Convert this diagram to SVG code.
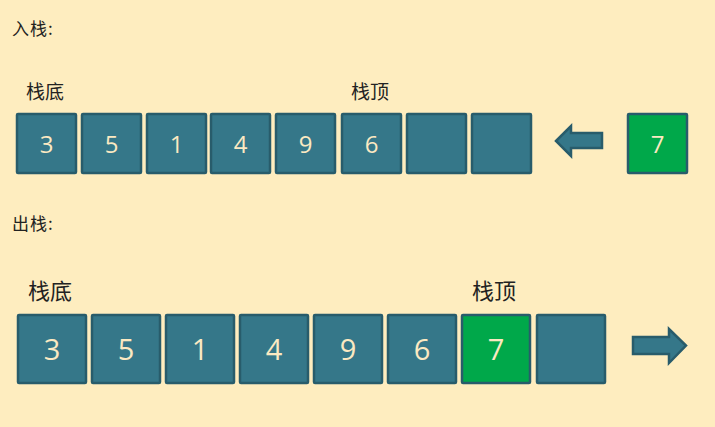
<svg xmlns="http://www.w3.org/2000/svg" width="715" height="427" viewBox="0 0 715 427">
<style>
.cell{fill:#357789;stroke:#285c6b;stroke-width:2.5}
.green{fill:#00a84a;stroke:#285c6b;stroke-width:2.5}
.num1{font-family:"Open Sans","Noto Sans",sans-serif;font-size:24px;fill:#fbe9c2;text-anchor:middle}
.num2{font-family:"Open Sans","Noto Sans",sans-serif;font-size:29px;fill:#fbe9c2;text-anchor:middle}
.lbl{font-family:"Noto Sans CJK SC",sans-serif;fill:#222}
.arrow{fill:#357789;stroke:#285c6b;stroke-width:2.5}
</style>
<rect width="715" height="427" fill="#feedbf"/>
<text class="lbl" x="12" y="35" font-size="17" letter-spacing="1">入栈:</text>
<text class="lbl" x="26" y="99" font-size="19">栈底</text>
<text class="lbl" x="351" y="99" font-size="19">栈顶</text>
<g id="push-row">
<g id="p1"><rect class="cell" x="17" y="114" width="59" height="59" rx="1"/><text class="num1" x="46.5" y="152.5">3</text></g>
<g id="p2"><rect class="cell" x="82" y="114" width="59" height="59" rx="1"/><text class="num1" x="111.5" y="152.5">5</text></g>
<g id="p3"><rect class="cell" x="147" y="114" width="59" height="59" rx="1"/><text class="num1" x="176.5" y="152.5">1</text></g>
<g id="p4"><rect class="cell" x="211" y="114" width="59" height="59" rx="1"/><text class="num1" x="240.5" y="152.5">4</text></g>
<g id="p5"><rect class="cell" x="276" y="114" width="59" height="59" rx="1"/><text class="num1" x="305.5" y="152.5">9</text></g>
<g id="p6"><rect class="cell" x="342" y="114" width="59" height="59" rx="1"/><text class="num1" x="371.5" y="152.5">6</text></g>
<g id="p7"><rect class="cell" x="407" y="114" width="59" height="59" rx="1"/></g>
<g id="p8"><rect class="cell" x="472" y="114" width="59" height="59" rx="1"/></g>
<g id="p-new"><rect class="green" x="628" y="114" width="59" height="59" rx="1"/><text class="num1" x="657.5" y="152.5">7</text></g>
</g>
<text class="lbl" x="12" y="230" font-size="17" letter-spacing="1">出栈:</text>
<text class="lbl" x="28" y="299" font-size="22">栈底</text>
<text class="lbl" x="472" y="299" font-size="22">栈顶</text>
<g id="pop-row">
<g id="q1"><rect class="cell" x="18" y="315" width="68" height="68" rx="1"/><text class="num2" x="52" y="360">3</text></g>
<g id="q2"><rect class="cell" x="92" y="315" width="68" height="68" rx="1"/><text class="num2" x="126" y="360">5</text></g>
<g id="q3"><rect class="cell" x="166" y="315" width="68" height="68" rx="1"/><text class="num2" x="200" y="360">1</text></g>
<g id="q4"><rect class="cell" x="240" y="315" width="68" height="68" rx="1"/><text class="num2" x="274" y="360">4</text></g>
<g id="q5"><rect class="cell" x="314" y="315" width="68" height="68" rx="1"/><text class="num2" x="348" y="360">9</text></g>
<g id="q6"><rect class="cell" x="388" y="315" width="68" height="68" rx="1"/><text class="num2" x="422" y="360">6</text></g>
<g id="q7"><rect class="green" x="462" y="315" width="68" height="68" rx="1"/><text class="num2" x="496" y="360">7</text></g>
<g id="q8"><rect class="cell" x="537" y="315" width="68" height="68" rx="1"/></g>
</g>
<g id="connectors">
<polygon class="arrow" points="556,141 571,126 571,133 602,133 602,148 571,148 571,156"/>
<polygon class="arrow" points="633,337 669,337 669,329 686,345.5 669,363 669,354 633,354"/>
</g>
</svg>
